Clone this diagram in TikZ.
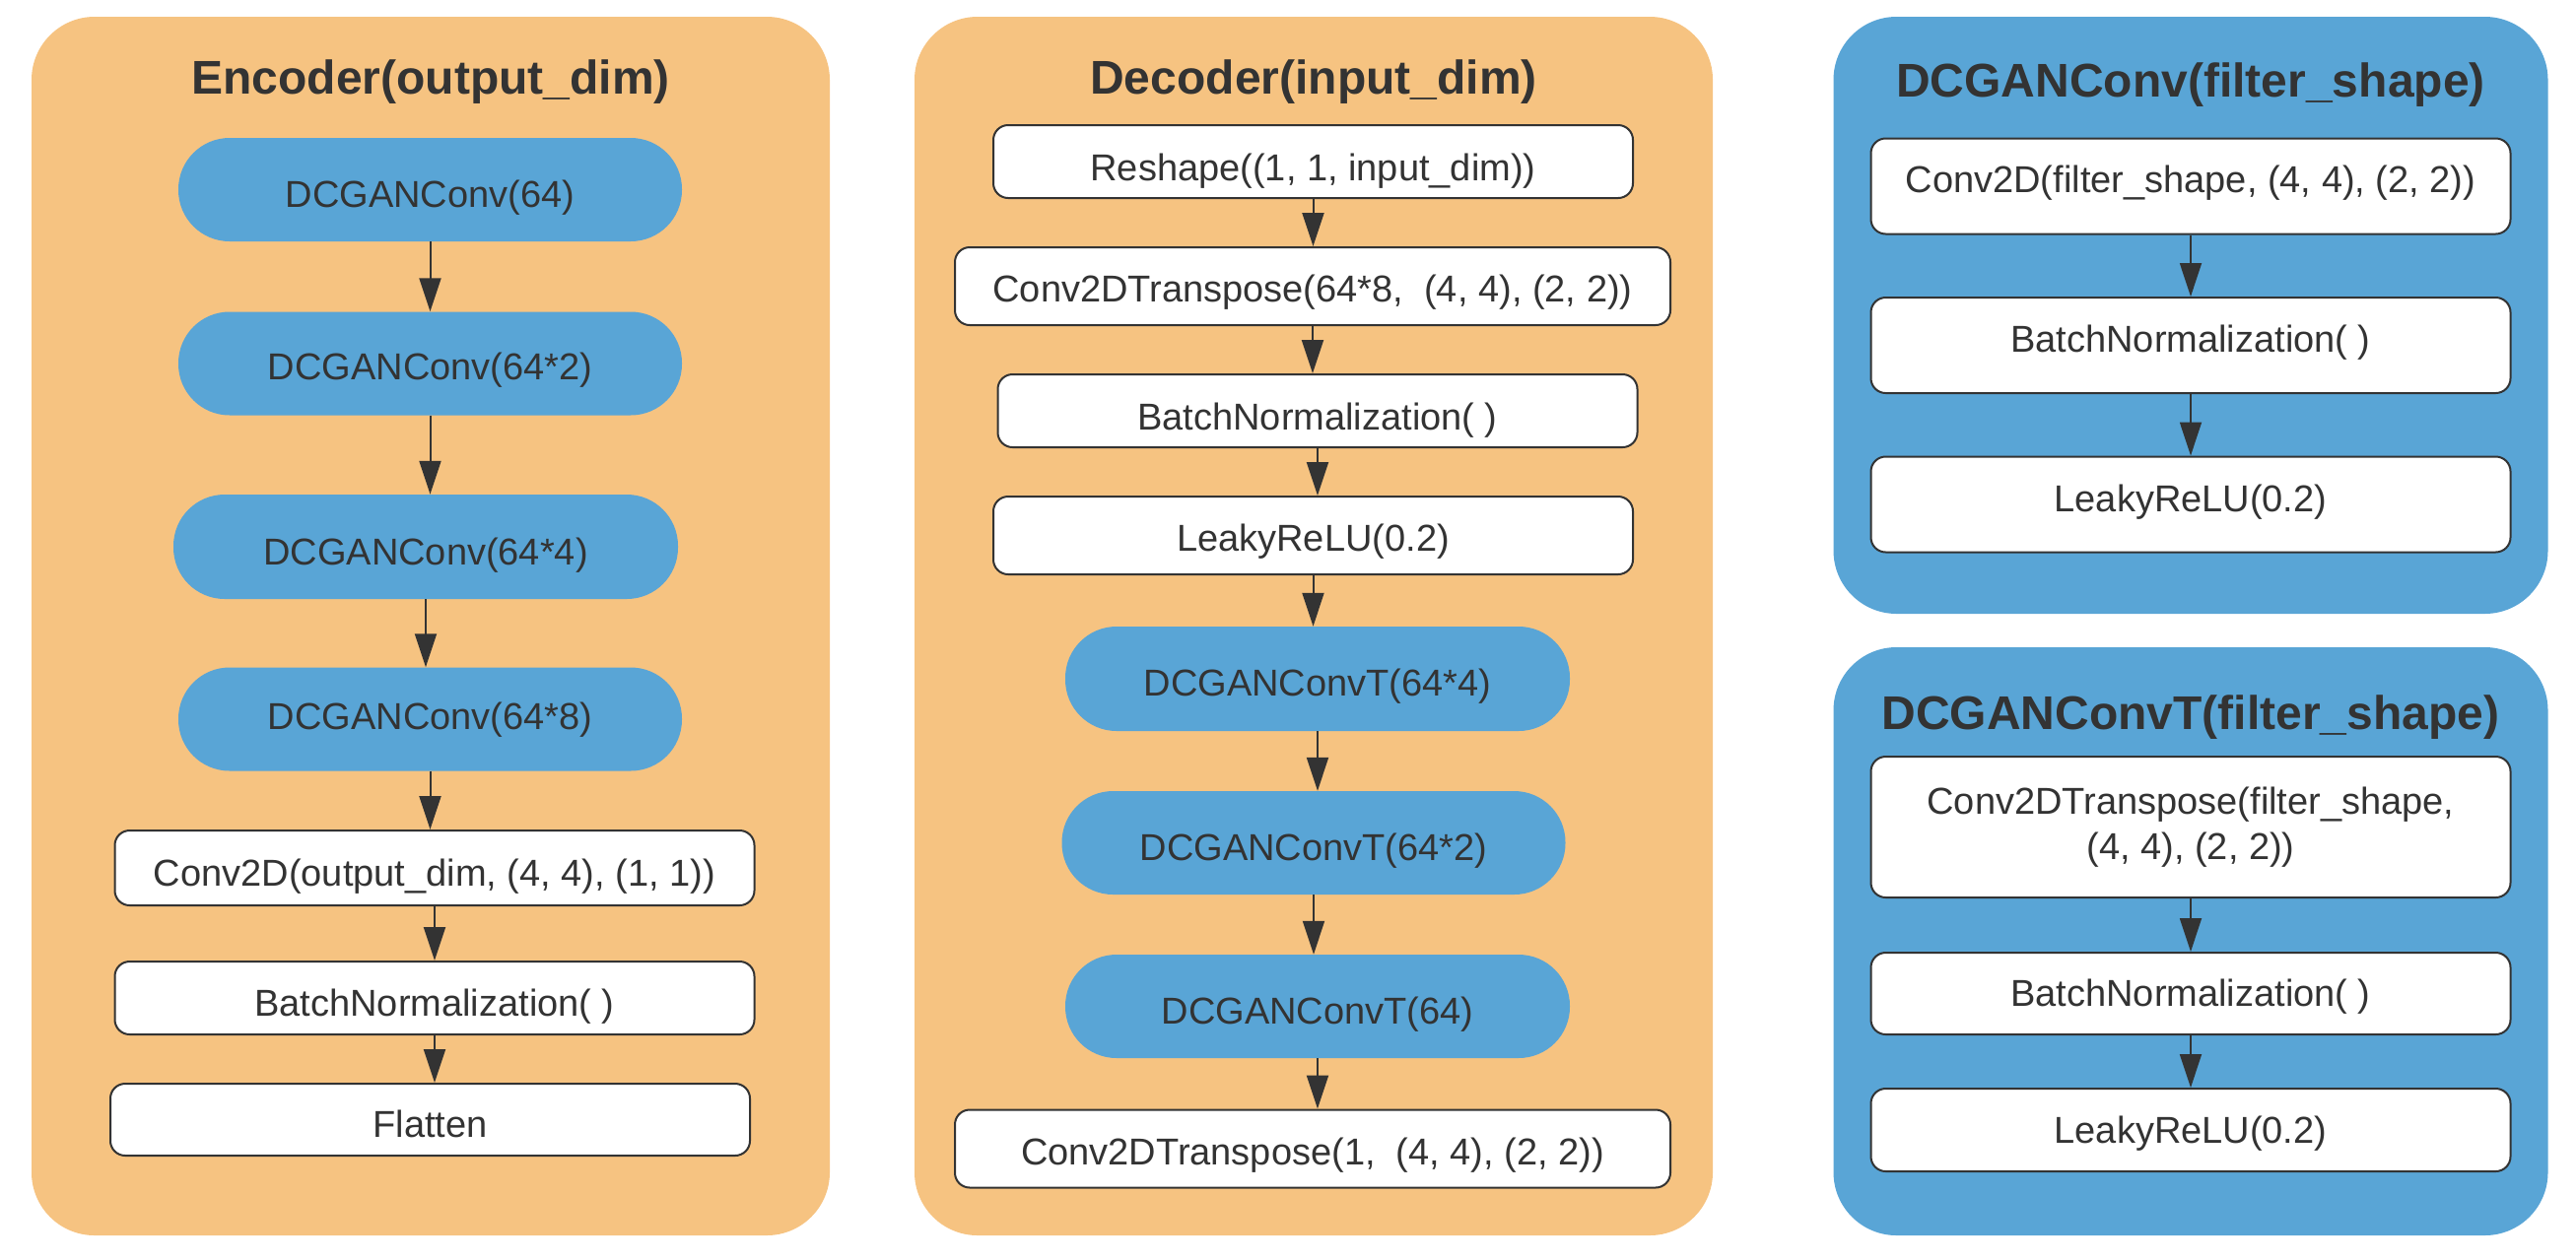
\documentclass[tikz,border=0pt]{standalone}
\usepackage{fontspec}
\setmainfont{Liberation Sans}
\usetikzlibrary{arrows.meta}
\definecolor{panelorange}{RGB}{246,195,129}
\definecolor{panelblue}{RGB}{89,165,214}
\definecolor{inkdark}{RGB}{51,51,51}
\tikzset{
  panel/.style={draw=none, rounded corners=64pt, inner sep=0pt},
  ptitle/.style={text=inkdark, font=\fontsize{48}{56}\selectfont\bfseries, inner sep=0pt, anchor=base},
  stadium/.style={fill=panelblue, draw=none, rounded corners=52pt, inner sep=0pt,
    text=inkdark, font=\fontsize{38}{46}\selectfont},
  wbox/.style={fill=white, draw=inkdark, line width=2pt, rounded corners=15pt, inner sep=0pt,
    text=inkdark, font=\fontsize{38}{46}\selectfont, align=center},
  bl/.style={text height=#1, text depth=0pt},
  arr/.style={draw=inkdark, line width=2pt, -{Triangle[length=34pt,width=22pt]}},
}
\begin{document}
\begin{tikzpicture}[x=1pt,y=-1pt]
\useasboundingbox (0,0) rectangle (2614,1278);
% panels
\node[panel, fill=panelorange, minimum width=810pt, minimum height=1237pt] (encP) at (437,635.5) {};
\node[panel, fill=panelorange, minimum width=810pt, minimum height=1237pt] (decP) at (1333,635.5) {};
\node[panel, fill=panelblue, minimum width=725pt, minimum height=606pt] (convP) at (2223,320) {};
\node[panel, fill=panelblue, minimum width=725pt, minimum height=597pt] (convtP) at (2223,955.5) {};
% titles
\node[ptitle] (encT) at (437,95) {Encoder(output\_dim)};
\node[ptitle] (decT) at (1333,95) {Decoder(input\_dim)};
\node[ptitle] (convT) at (2223,98) {DCGANConv(filter\_shape)};
\node[ptitle] (convtT) at (2223,740) {DCGANConvT(filter\_shape)};
% encoder
\node[stadium, bl=36pt, minimum width=511pt, minimum height=105pt] (e1) at (436.5,192.5) {DCGANConv(64)};
\node[stadium, bl=33pt, minimum width=511pt, minimum height=105pt] (e2) at (436.5,369) {DCGANConv(64*2)};
\node[stadium, bl=36pt, minimum width=512pt, minimum height=106pt] (e3) at (432,555) {DCGANConv(64*4)};
\node[stadium, bl=20pt, minimum width=511pt, minimum height=105pt] (e4) at (436.5,730) {DCGANConv(64*8)};
\node[wbox, bl=36pt, minimum width=649pt, minimum height=76pt] (e5) at (441,881) {Conv2D(output\_dim, (4, 4), (1, 1))};
\node[wbox, bl=36pt, minimum width=649pt, minimum height=74pt] (e6) at (441,1013) {BatchNormalization( )};
\node[wbox, bl=36pt, minimum width=649pt, minimum height=73pt] (e7) at (436.5,1136.5) {Flatten};
% decoder
\node[wbox, bl=39pt, minimum width=649pt, minimum height=74pt] (d1) at (1332.5,164) {Reshape((1, 1, input\_dim))};
\node[wbox, bl=31pt, minimum width=726pt, minimum height=79pt] (d2) at (1332,290.5) {Conv2DTranspose(64*8,\ \ (4, 4), (2, 2))};
\node[wbox, bl=38pt, minimum width=649pt, minimum height=74pt] (d3) at (1337,417) {BatchNormalization( )};
\node[wbox, bl=31pt, minimum width=649pt, minimum height=79pt] (d4) at (1332.5,543.5) {LeakyReLU(0.2)};
\node[stadium, bl=34pt, minimum width=512pt, minimum height=106pt] (d5) at (1337,689) {DCGANConvT(64*4)};
\node[stadium, bl=35pt, minimum width=511pt, minimum height=105pt] (d6) at (1333,855.5) {DCGANConvT(64*2)};
\node[stadium, bl=35pt, minimum width=512pt, minimum height=105pt] (d7) at (1337,1021.5) {DCGANConvT(64)};
\node[wbox, bl=33pt, minimum width=726pt, minimum height=79pt] (d8) at (1332,1166) {Conv2DTranspose(1,\ \ (4, 4), (2, 2))};
% DCGANConv
\node[wbox, bl=13pt, minimum width=649pt, minimum height=97pt] (c1) at (2223,189) {Conv2D(filter\_shape, (4, 4), (2, 2))};
\node[wbox, bl=13pt, minimum width=649pt, minimum height=97pt] (c2) at (2223,350.5) {BatchNormalization( )};
\node[wbox, bl=14pt, minimum width=649pt, minimum height=97pt] (c3) at (2223,512) {LeakyReLU(0.2)};
% DCGANConvT
\node[wbox, minimum width=649pt, minimum height=143pt] (t1) at (2223,839.5) {Conv2DTranspose(filter\_shape,\\(4, 4), (2, 2))};
\node[wbox, bl=26pt, minimum width=649pt, minimum height=83pt] (t2) at (2223,1008.5) {BatchNormalization( )};
\node[wbox, bl=26pt, minimum width=649pt, minimum height=84pt] (t3) at (2223,1147) {LeakyReLU(0.2)};
% arrows
\foreach \a/\b in {e1/e2,e2/e3,e3/e4,e4/e5,e5/e6,e6/e7,d1/d2,d2/d3,d3/d4,d4/d5,d5/d6,d6/d7,d7/d8,c1/c2,c2/c3,t1/t2,t2/t3}
  \draw[arr] (\a.south) -- (\a.south |- \b.north);
\end{tikzpicture}
\end{document}
